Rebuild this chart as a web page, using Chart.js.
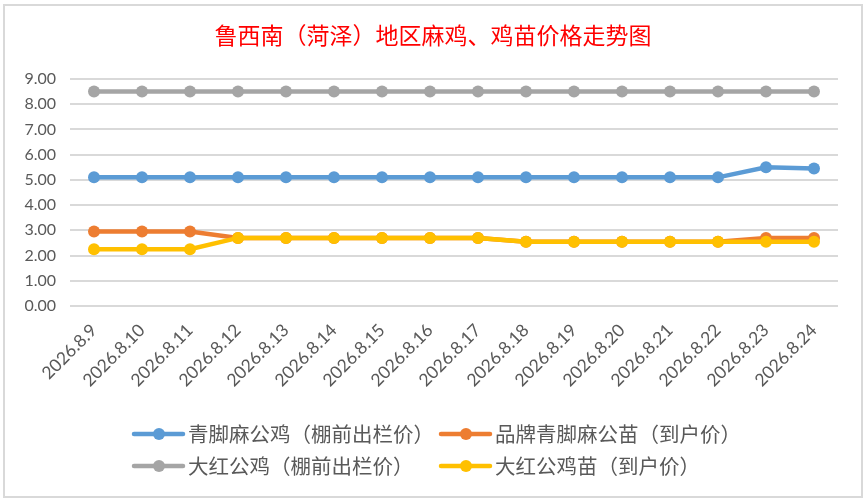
<!DOCTYPE html>
<html>
<head>
<meta charset="utf-8">
<script src="https://cdn.jsdelivr.net/npm/chart.js@4.4.1/dist/chart.umd.min.js"></script>
<style>
  html, body { margin: 0; padding: 0; background: #fff; }
  #wrap { width: 866px; height: 502px; position: relative; }
</style>
</head>
<body>
<div id="wrap"><canvas id="priceChart"></canvas></div>
<script>
const labels = ["2026.8.9", "2026.8.10", "2026.8.11", "2026.8.12", "2026.8.13", "2026.8.14",
  "2026.8.15", "2026.8.16", "2026.8.17", "2026.8.18", "2026.8.19", "2026.8.20",
  "2026.8.21", "2026.8.22", "2026.8.23", "2026.8.24"];

const qingjiaoJi = [5.1, 5.1, 5.1, 5.1, 5.1, 5.1, 5.1, 5.1, 5.1, 5.1, 5.1, 5.1, 5.1, 5.1, 5.5, 5.45];
const pinpaiMiao = [2.95, 2.95, 2.95, 2.7, 2.7, 2.7, 2.7, 2.7, 2.7, 2.55, 2.55, 2.55, 2.55, 2.55, 2.7, 2.7];
const dahongJi = [8.5, 8.5, 8.5, 8.5, 8.5, 8.5, 8.5, 8.5, 8.5, 8.5, 8.5, 8.5, 8.5, 8.5, 8.5, 8.5];
const dahongMiao = [2.25, 2.25, 2.25, 2.7, 2.7, 2.7, 2.7, 2.7, 2.7, 2.55, 2.55, 2.55, 2.55, 2.55, 2.55, 2.55];

const seriesNames = ["青脚麻公鸡（棚前出栏价）", "品牌青脚麻公苗（到户价）", "大红公鸡（棚前出栏价）", "大红公鸡苗（到户价）"];
const seriesColors = ["#5B9BD5", "#ED7D31", "#A5A5A5", "#FFC000"];
const yTicks = [0, 1, 2, 3, 4, 5, 6, 7, 8, 9];
const titleText = "鲁西南（菏泽）地区麻鸡、鸡苗价格走势图";

const cjk = "'Noto Sans CJK SC', 'Noto Sans', sans-serif";
const num = "Lato, 'Liberation Sans', sans-serif";

function makeSet(i, values) {
  return {
    label: seriesNames[i],
    data: values,
    borderColor: seriesColors[i],
    backgroundColor: seriesColors[i],
    borderWidth: 4.5,
    pointRadius: 6,
    pointBorderWidth: 0,
    tension: 0,
    order: 3 - i
  };
}

// frame and title, like the excel chart box
const framePlugin = {
  id: "frame",
  beforeDraw(chart) {
    const ctx = chart.ctx;
    ctx.save();
    ctx.fillStyle = "#fff";
    ctx.fillRect(0, 0, chart.width, chart.height);
    ctx.strokeStyle = "#d9d9d9";
    ctx.lineWidth = 2;
    ctx.strokeRect(4, 5, 858, 492);
    ctx.fillStyle = "#FF0000";
    ctx.font = "23px " + cjk;
    ctx.textAlign = "center";
    ctx.textBaseline = "middle";
    ctx.fillText(titleText, 433, 35);
    ctx.restore();
  }
};

// two column legend
const legendPlugin = {
  id: "gridLegend",
  afterDraw(chart) {
    const ctx = chart.ctx;
    const cols = [134, 441];
    const rows = [434, 466];
    ctx.save();
    ctx.font = "20.5px " + cjk;
    ctx.textBaseline = "middle";
    chart.data.datasets.forEach((ds, i) => {
      const x = cols[i % 2];
      const y = rows[Math.floor(i / 2)];
      ctx.strokeStyle = ds.borderColor;
      ctx.lineWidth = 4.5;
      ctx.lineCap = "round";
      ctx.beginPath();
      ctx.moveTo(x, y);
      ctx.lineTo(x + 49, y);
      ctx.stroke();
      ctx.fillStyle = ds.borderColor;
      ctx.beginPath();
      ctx.arc(x + 25, y, 6, 0, Math.PI * 2);
      ctx.fill();
      ctx.fillStyle = "#595959";
      ctx.fillText(ds.label, x + 54, y);
    });
    ctx.restore();
  }
};

const myChart = new Chart(document.getElementById("priceChart"), {
  type: "line",
  data: {
    labels: labels,
    datasets: [
      makeSet(0, qingjiaoJi),
      makeSet(1, pinpaiMiao),
      makeSet(2, dahongJi),
      makeSet(3, dahongMiao)
    ]
  },
  options: {
    responsive: true,
    maintainAspectRatio: false,
    animation: false,
    layout: { padding: { left: 12, right: 28, top: 79, bottom: 106 } },
    plugins: {
      legend: { display: false },
      tooltip: { enabled: false },
      title: { display: false }
    },
    scales: {
      x: {
        offset: true,
        grid: { display: false },
        border: { display: false },
        ticks: {
          autoSkip: false,
          minRotation: 45,
          maxRotation: 45,
          color: "#595959",
          font: { family: num, size: 17.5 },
          padding: 6
        },
        afterFit(s) { s.height = 90; }
      },
      y: {
        min: 0,
        max: 9,
        afterBuildTicks(s) { s.ticks = yTicks.map(v => ({ value: v })); },
        grid: { color: "#d9d9d9", lineWidth: 2, drawTicks: false },
        border: { display: false },
        ticks: {
          color: "#595959",
          font: { family: num, size: 16 },
          padding: 14,
          callback: v => Number(v).toFixed(2)
        },
        afterFit(s) { s.width = 58; }
      }
    }
  },
  plugins: [framePlugin, legendPlugin]
});
</script>
</body>
</html>
